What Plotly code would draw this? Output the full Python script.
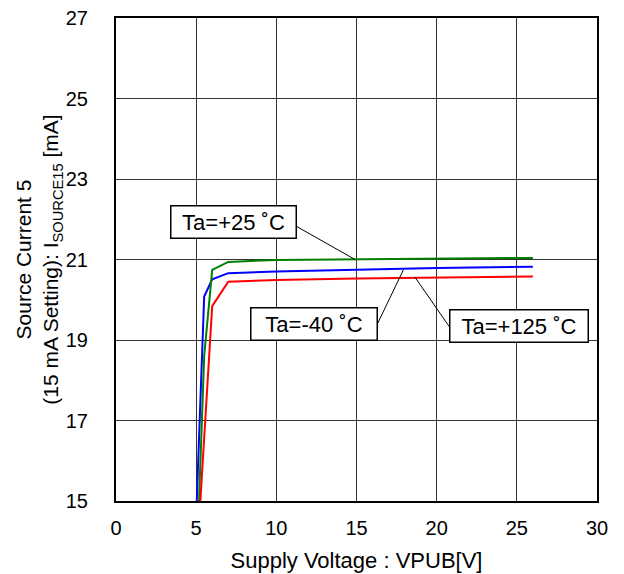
import plotly.graph_objects as go

# Data
voltage = [5.0, 5.5, 6.0, 7.0, 10, 15, 20, 26]
current_m40 = [14.6, 20.08, 20.51, 20.66, 20.70, 20.75, 20.79, 20.82]
current_p25 = [13.0, 18.6, 20.74, 20.94, 20.99, 21.01, 21.02, 21.04]
current_p125 = [13.3, 16.5, 19.84, 20.45, 20.49, 20.53, 20.56, 20.58]

series_names = ["Ta=-40 ˚C", "Ta=+25 ˚C", "Ta=+125 ˚C"]
series_colors = ["#0000FF", "#008000", "#FF0000"]

x_ticks = [0, 5, 10, 15, 20, 25, 30]
y_ticks = [15, 17, 19, 21, 23, 25, 27]

# Label boxes (center) and leader lines (box end -> curve point), in data units
label_pos = {"Ta=+25 ˚C": (7.32, 21.92), "Ta=-40 ˚C": (12.32, 19.41), "Ta=+125 ˚C": (25.16, 19.36)}
label_size = {"Ta=+25 ˚C": 120, "Ta=-40 ˚C": 121, "Ta=+125 ˚C": 133}
leaders = {
    "Ta=+25 ˚C": ((11.27, 21.82), (14.91, 21.0)),
    "Ta=-40 ˚C": ((16.33, 19.42), (17.92, 20.74)),
    "Ta=+125 ˚C": ((20.79, 19.33), (18.65, 20.56)),
}

FONT = "Liberation Sans, Arial, sans-serif"

fig = go.Figure()
for name, ys, col in zip(series_names, [current_m40, current_p25, current_p125], series_colors):
    fig.add_trace(go.Scatter(x=voltage, y=ys, mode="lines", name=name,
                             line=dict(color=col, width=2), showlegend=False))

for name in series_names:
    (x0, y0), (x1, y1) = leaders[name]
    fig.add_shape(type="line", x0=x0, y0=y0, x1=x1, y1=y1, xref="x", yref="y",
                  line=dict(color="black", width=1))
    cx, cy = label_pos[name]
    fig.add_annotation(x=cx, y=cy, xref="x", yref="y", text=name, showarrow=False,
                       font=dict(family=FONT, size=22, color="black"),
                       bgcolor="white", bordercolor="black", borderwidth=1.5,
                       borderpad=2, width=label_size[name], height=27)

fig.update_xaxes(range=[0, 30], tickvals=x_ticks, showgrid=True, gridcolor="#333333", gridwidth=1,
                 showline=True, linecolor="black", linewidth=2, mirror=True, zeroline=False,
                 ticks="", ticklabelstandoff=8, automargin=False,
                 tickfont=dict(family=FONT, size=20, color="black"),
                 title=dict(text="Supply Voltage : VPUB[V]", font=dict(family=FONT, size=22, color="black"),
                            standoff=15))
fig.update_yaxes(range=[15, 27], tickvals=y_ticks, showgrid=True, gridcolor="#333333", gridwidth=1,
                 showline=True, linecolor="black", linewidth=2, mirror=True, zeroline=False,
                 ticks="", ticklabelstandoff=22, automargin=False,
                 tickfont=dict(family=FONT, size=20, color="black"),
                 title=dict(text="Source Current 5<br>(15 mA Setting): I<sub>SOURCE15</sub> [mA]",
                            font=dict(family=FONT, size=21, color="black"), standoff=1))

fig.update_layout(width=624, height=574, margin=dict(l=116, r=27, t=18, b=73),
                  plot_bgcolor="white", paper_bgcolor="white",
                  font=dict(family=FONT, color="black"))

fig.write_html("out.html", config={"displayModeBar": False},
               post_script="document.body.style.margin='0px';")
